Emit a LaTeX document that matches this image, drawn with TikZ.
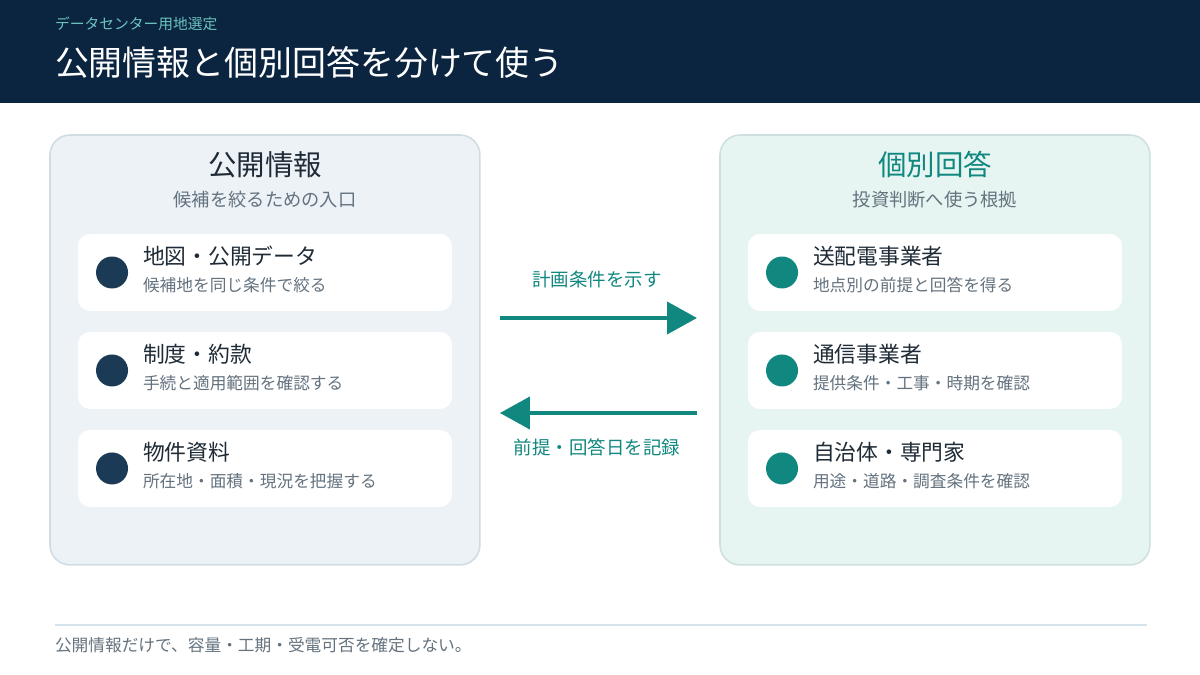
\documentclass[tikz,border=0pt]{standalone}
\usepackage{fontspec}
\setmainfont{Noto Sans CJK JP}
\usetikzlibrary{arrows.meta, positioning, calc}

\definecolor{navy}{HTML}{0B2540}
\definecolor{headteal}{HTML}{6CC3C0}
\definecolor{pubfill}{HTML}{EDF2F7}
\definecolor{publine}{HTML}{CFDDE3}
\definecolor{indfill}{HTML}{E7F5F2}
\definecolor{indline}{HTML}{CDE0DF}
\definecolor{dotnavy}{HTML}{1B3A56}
\definecolor{tealmain}{HTML}{10877F}
\definecolor{ink}{HTML}{1E2B36}
\definecolor{muted}{HTML}{63727E}
\definecolor{rulecol}{HTML}{D5E4EA}

\begin{document}
\begin{tikzpicture}[
    x=0.02cm, y=-0.02cm,
    >=Triangle,
    every node/.style = {inner sep=0pt, outer sep=0pt},
    panel/.style = {rounded corners=0.4cm, line width=0.9pt, minimum width=8.6cm, minimum height=8.6cm, anchor=north west},
    card/.style = {fill=white, rounded corners=0.24cm, minimum width=7.48cm, minimum height=1.54cm},
    dot/.style = {circle, minimum size=0.64cm},
    ptitle/.style = {font=\fontsize{16.2pt}{19pt}\selectfont},
    psub/.style = {font=\fontsize{10.4pt}{13pt}\selectfont, text=muted},
    ctitle/.style = {font=\fontsize{12.4pt}{15pt}\selectfont, text=ink, anchor=west},
    csub/.style = {font=\fontsize{9.5pt}{12pt}\selectfont, text=muted, anchor=west},
    flow/.style = {tealmain, line width=2.3pt, -{Triangle[length=0.6cm,width=0.64cm]}},
    flowlabel/.style = {font=\fontsize{10.5pt}{13pt}\selectfont, text=tealmain},
]
\useasboundingbox (0,0) rectangle (1200,675);

% Kopfzeile
\fill[navy] (0,0) rectangle (1200,103);
\node[anchor=west, text=headteal, font=\fontsize{8.4pt}{10pt}\selectfont] (kicker) at (55,24) {データセンター用地選定};
\node[anchor=west, text=white, font=\fontsize{19.3pt}{23pt}\selectfont] (title) at (55,62) {公開情報と個別回答を分けて使う};

% Linke Spalte: öffentliche Informationen
\node[panel, draw=publine, fill=pubfill] (pub) at (50,135) {};
\node[ptitle, text=ink] (pubhead) at (265,165) {公開情報};
\node[psub] (pubsub) at (265,200) {候補を絞るための入口};

\node[card] (p1) at (265,272.5) {};
\node[dot, fill=dotnavy] (p1dot) at ([xshift=0.68cm]p1.west) {};
\node[ctitle] (p1t) at ($(p1.west)+(65,-16.5)$) {地図・公開データ};
\node[csub] (p1s) at ($(p1.west)+(65,12.5)$) {候補地を同じ条件で絞る};

\node[card, below=0.42cm of p1] (p2) {};
\node[dot, fill=dotnavy] (p2dot) at ([xshift=0.68cm]p2.west) {};
\node[ctitle] (p2t) at ($(p2.west)+(65,-16.5)$) {制度・約款};
\node[csub] (p2s) at ($(p2.west)+(65,12.5)$) {手続と適用範囲を確認する};

\node[card, below=0.42cm of p2] (p3) {};
\node[dot, fill=dotnavy] (p3dot) at ([xshift=0.68cm]p3.west) {};
\node[ctitle] (p3t) at ($(p3.west)+(65,-16.5)$) {物件資料};
\node[csub] (p3s) at ($(p3.west)+(65,12.5)$) {所在地・面積・現況を把握する};

% Rechte Spalte: individuelle Antworten
\node[panel, draw=indline, fill=indfill] (ind) at (720,135) {};
\node[ptitle, text=tealmain] (indhead) at (935,165) {個別回答};
\node[psub] (indsub) at (935,200) {投資判断へ使う根拠};

\node[card] (r1) at (935,272.5) {};
\node[dot, fill=tealmain] (r1dot) at ([xshift=0.68cm]r1.west) {};
\node[ctitle] (r1t) at ($(r1.west)+(65,-16.5)$) {送配電事業者};
\node[csub] (r1s) at ($(r1.west)+(65,12.5)$) {地点別の前提と回答を得る};

\node[card, below=0.42cm of r1] (r2) {};
\node[dot, fill=tealmain] (r2dot) at ([xshift=0.68cm]r2.west) {};
\node[ctitle] (r2t) at ($(r2.west)+(65,-16.5)$) {通信事業者};
\node[csub] (r2s) at ($(r2.west)+(65,12.5)$) {提供条件・工事・時期を確認};

\node[card, below=0.42cm of r2] (r3) {};
\node[dot, fill=tealmain] (r3dot) at ([xshift=0.68cm]r3.west) {};
\node[ctitle] (r3t) at ($(r3.west)+(65,-16.5)$) {自治体・専門家};
\node[csub] (r3s) at ($(r3.west)+(65,12.5)$) {用途・道路・調査条件を確認};

% Pfeile zwischen den Spalten
\coordinate (goL) at ($(pub.north east)+(20,183)$);
\coordinate (goR) at ($(ind.north west)+(-23,183)$);
\coordinate (backR) at ($(ind.north west)+(-23,278)$);
\coordinate (backL) at ($(pub.north east)+(20,278)$);

\draw[flow] (goL) -- (goR);
\node[flowlabel] (golabel) at (597,279) {計画条件を示す};

\draw[flow] (backR) -- (backL);
\node[flowlabel] (backlabel) at (597,447) {前提・回答日を記録};

% Fußzeile
\draw[rulecol, line width=1.2pt] (55,625) -- (1147,625);
\node[anchor=west, text=muted, font=\fontsize{9.5pt}{12pt}\selectfont] (note) at (55,645) {公開情報だけで、容量・工期・受電可否を確定しない。};

\end{tikzpicture}
\end{document}
